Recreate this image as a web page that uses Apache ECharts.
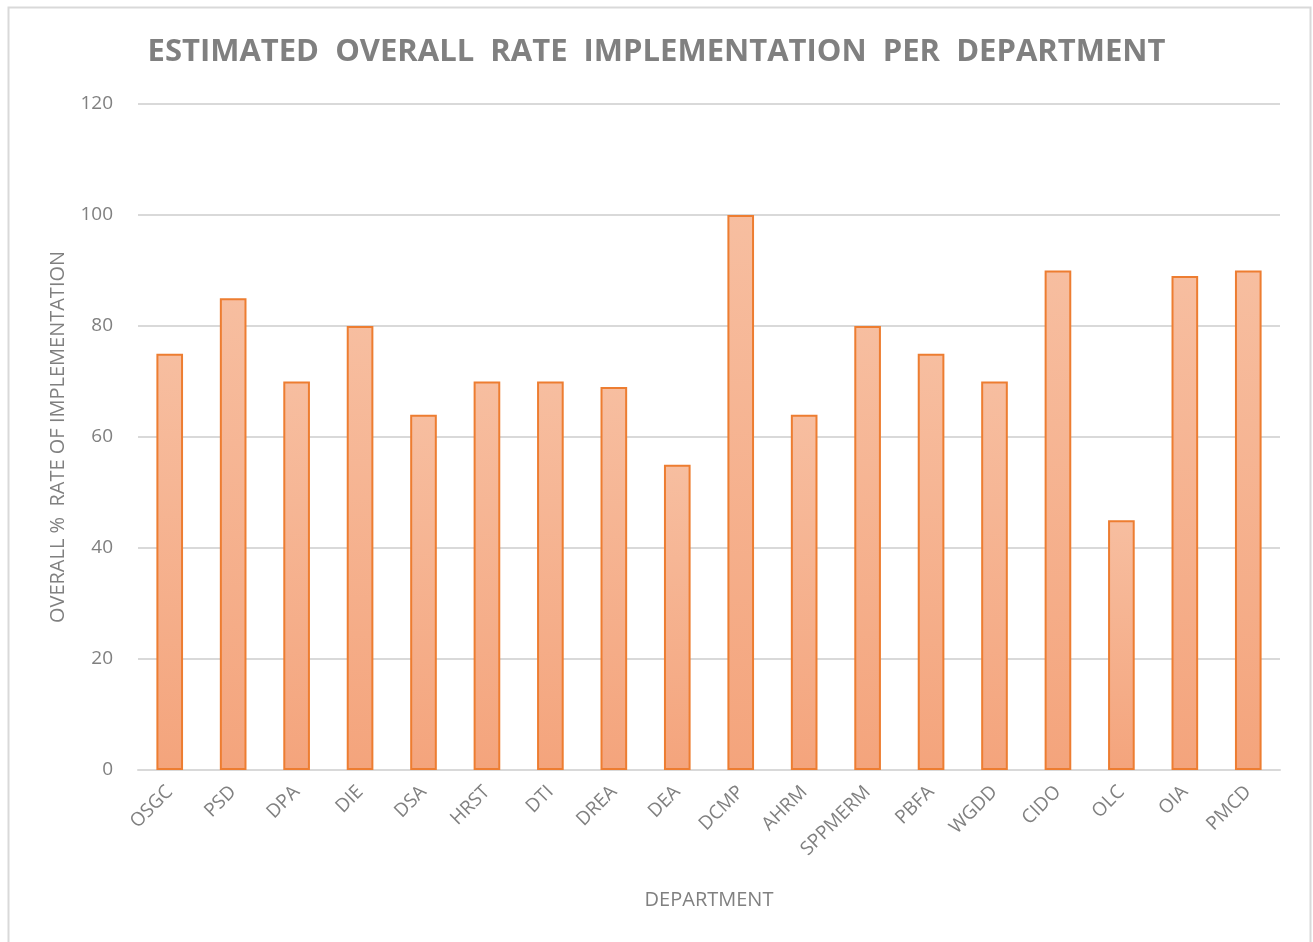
<!DOCTYPE html>
<html><head><meta charset="utf-8">
<script src="https://cdn.jsdelivr.net/npm/echarts@6/dist/echarts.min.js"></script>
<style>html,body{margin:0;padding:0;background:#fff}#c{width:1313px;height:942px}</style>
</head><body><div id="c"></div>
<script>
const categories = ['OSGC','PSD','DPA','DIE','DSA','HRST','DTI','DREA','DEA','DCMP','AHRM','SPPMERM','PBFA','WGDD','CIDO','OLC','OIA','PMCD'];
const values = [75,85,70,80,64,70,70,69,55,100,64,80,75,70,90,45,89,90];
const yTicks = [0,20,40,60,80,100,120];
const titleText = 'ESTIMATED  OVERALL  RATE  IMPLEMENTATION  PER  DEPARTMENT';
const font = '"Open Sans", "Liberation Sans", sans-serif';
const chart = echarts.init(document.getElementById('c'));
chart.setOption({
  animation:false,
  graphic:[{type:'rect',left:6,top:5,shape:{width:1302,height:945},style:{fill:'none',stroke:'#d9d9d9',lineWidth:2},silent:true}],
  title:{text:titleText,left:'center',top:32,textStyle:{fontFamily:font,fontSize:31,fontWeight:'bold',color:'#808080'}},
  grid:{left:138,right:33,top:104,bottom:172,containLabel:false},
  xAxis:{type:'category',data:categories,
    name:'DEPARTMENT',nameLocation:'middle',nameGap:120,
    nameTextStyle:{fontFamily:font,fontSize:20,color:'#808080'},
    axisLine:{lineStyle:{color:'#d9d9d9',width:2}},axisTick:{show:false},
    axisLabel:{rotate:45,fontFamily:font,fontSize:19,color:'#808080',margin:19,interval:0}},
  yAxis:{type:'value',min:yTicks[0],max:yTicks[yTicks.length-1],interval:20,
    name:'OVERALL %  RATE OF IMPLEMENTATION',nameLocation:'middle',nameGap:70,
    nameTextStyle:{fontFamily:font,fontSize:20,color:'#808080'},
    axisLine:{show:false},axisTick:{show:false},
    axisLabel:{fontFamily:font,fontSize:19,color:'#808080',margin:25},
    splitLine:{lineStyle:{color:'#d9d9d9',width:2}}},
  series:[{type:'bar',data:values,barWidth:'42%',
    itemStyle:{borderColor:'#ed7d31',borderWidth:2,
      color:new echarts.graphic.LinearGradient(0,0,0,1,[{offset:0,color:'#f7bea0'},{offset:1,color:'#f4a47c'}])}}]
});
</script></body></html>
